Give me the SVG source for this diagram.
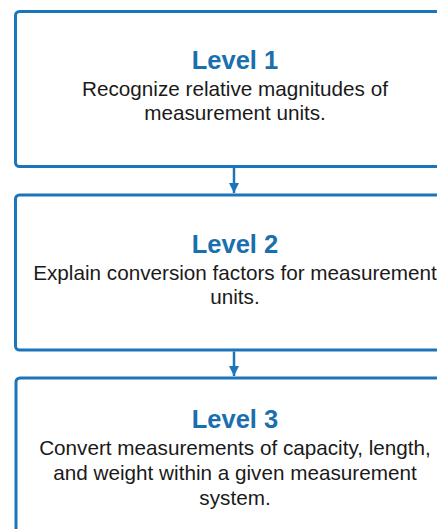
<svg xmlns="http://www.w3.org/2000/svg" width="437" height="529" viewBox="0 0 437 529">
<defs>
<style>
.box{fill:#ffffff;stroke:#1a75bb;stroke-width:3}
.title{font-family:"Liberation Sans",Arial,sans-serif;font-weight:bold;font-size:25.5px;fill:#1a6fae;text-anchor:middle}
.body{font-family:"Liberation Sans",Arial,sans-serif;font-size:20.7px;fill:#1a1a1a;text-anchor:middle}
.conn{stroke:#1a75bb;stroke-width:2.5;fill:none}
</style>
<marker id="arr" viewBox="0 0 10 10" refX="10" refY="5" markerWidth="4" markerHeight="4" orient="auto" markerUnits="strokeWidth">
<path d="M0,0 L10,5 L0,10 Z" fill="#1a75bb"/>
</marker>
</defs>
<rect width="437" height="529" fill="#ffffff"/>
<g id="level1">
<rect class="box" x="15.5" y="11.5" width="440" height="155" rx="4"/>
<text class="title" x="235" y="69">Level 1</text>
<text class="body" x="235" y="96">Recognize relative magnitudes of</text>
<text class="body" x="235" y="120">measurement units.</text>
</g>
<g id="level2">
<rect class="box" x="15.5" y="195" width="440" height="155" rx="4"/>
<text class="title" x="235" y="253">Level 2</text>
<text class="body" x="235" y="280">Explain conversion factors for measurement</text>
<text class="body" x="235" y="304">units.</text>
</g>
<g id="level3">
<rect class="box" x="16" y="378" width="440" height="160" rx="4"/>
<text class="title" x="235" y="428">Level 3</text>
<text class="body" x="235" y="455">Convert measurements of capacity, length,</text>
<text class="body" x="235" y="480">and weight within a given measurement</text>
<text class="body" x="235" y="505">system.</text>
</g>
<g id="connectors">
<line class="conn" x1="234" y1="168" x2="234" y2="193" marker-end="url(#arr)"/>
<line class="conn" x1="234" y1="351.5" x2="234" y2="376" marker-end="url(#arr)"/>
</g>
</svg>
